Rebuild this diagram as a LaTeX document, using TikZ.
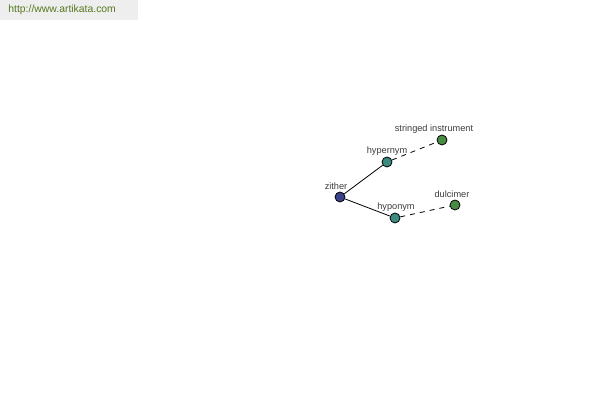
\documentclass[tikz,border=0pt]{standalone}
\usepackage{fontspec}
\setmainfont{Liberation Sans}
\usepackage{xcolor}
\usepackage{tikz}
\usetikzlibrary{positioning}
\definecolor{akGreenText}{RGB}{86,120,30}
\definecolor{akBarGray}{RGB}{238,238,238}
\definecolor{akBlue}{RGB}{58,66,140}
\definecolor{akTeal}{RGB}{58,140,128}
\definecolor{akGreen}{RGB}{72,140,68}
\definecolor{akLabel}{RGB}{60,60,60}

\begin{document}
\begin{tikzpicture}[x=0.5pt,y=-0.5pt]
    \tikzset{
        wnode/.style={circle, draw=black, line width=0.4pt, minimum size=5pt, inner sep=0pt},
        wlabel/.style={text=akLabel, font=\fontsize{4.6}{5}\selectfont, inner sep=0pt},
        wdash/.style={line width=0.4pt, dash pattern=on 2.5pt off 2.5pt}
    }
    \useasboundingbox (0,0) rectangle (600,400);
    % header
    \fill[akBarGray] (0,0) rectangle (138,20);
    \node[text=akGreenText, font=\fontsize{5.2}{6}\selectfont, anchor=west, inner sep=0pt] (site) at (8,10) {http://www.artikata.com};

    % word graph
    \node[wnode, fill=akBlue] (zither) at (340,197) {};
    \node[wnode, fill=akTeal] (hyper) at (387,162) {};
    \node[wnode, fill=akTeal] (hypo) at (395,218) {};
    \node[wnode, fill=akGreen] (stringed) at (442,140) {};
    \node[wnode, fill=akGreen] (dulcimer) at (455,205) {};

    \draw[line width=0.4pt] (zither) -- (hyper);
    \draw[line width=0.4pt] (zither) -- (hypo);
    \draw[wdash] (hyper) -- (stringed);
    \draw[wdash] (hypo) -- (dulcimer);

    \node[wlabel] (lzither) at (336,186) {zither};
    \node[wlabel] (lhyper) at (387,151) {hypernym};
    \node[wlabel] (lhypo) at (396,207) {hyponym};
    \node[wlabel] (lstringed) at (434,129) {stringed instrument};
    \node[wlabel] (ldulcimer) at (452,194) {dulcimer};
\end{tikzpicture}
\end{document}
